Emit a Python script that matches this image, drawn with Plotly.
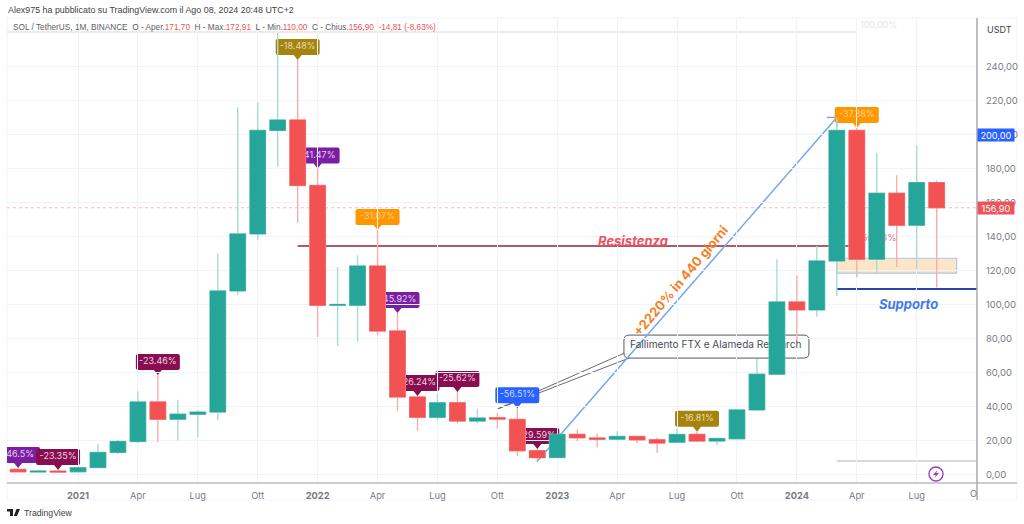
import plotly.graph_objects as go

# SOL/USDT mensile, da ott 2020 ad ago 2024
opens = [3.0, 1.5, 2.0, 1.6, 4.1, 13, 19.4, 42.7, 32.5, 35.4, 36.7, 108, 141.5, 202.4, 208.5, 170,
         99.5, 99.5, 122.6, 84.4, 45.6, 33.6, 42.2, 31.4, 33.4, 32.4, 14, 10, 23.6, 21.5, 20.8, 22.4,
         20.4, 19, 23.6, 19.7, 21, 38, 59, 101.5, 96.8, 125.6, 202.4, 126.6, 165.4, 146.6, 171.7]
highs = [3.8, 2.3, 2.6, 4.2, 18, 20.4, 49, 58.5, 44, 38, 130, 216, 219, 259.7, 243.8, 180,
         122, 129, 143.8, 95, 46.2, 47.4, 48.5, 38.8, 36, 39, 15, 24, 26.5, 24, 25.4, 23,
         21.8, 27, 25.2, 21.8, 38.5, 68, 126.6, 117, 134.4, 210, 203.8, 189, 176, 193.5, 172.91]
lows = [1.5, 1.2, 1.2, 1.5, 4, 12, 18.5, 19, 20, 22, 32, 105.6, 138, 181, 148, 81,
        75.6, 78, 82, 37.4, 25.8, 31.7, 30, 30, 27, 11, 8, 9.8, 19.6, 16, 20, 18.6,
        12.7, 18.5, 19, 17.3, 20.8, 37.6, 58.5, 79, 92.8, 105, 116, 118, 122, 121, 110]
closes = [1.6, 2.0, 1.5, 4.0, 13, 19.4, 42.7, 32.5, 35.5, 36.7, 108, 141.5, 202.4, 208.5, 170, 99.5,
          100, 122.6, 84.4, 45.6, 33.6, 42.2, 31.4, 33.2, 32.6, 14, 9.9, 23.6, 21.6, 20.8, 22.4, 20.4,
          18.5, 23.5, 19.7, 21.2, 38, 59, 101.5, 96.8, 125.6, 202.4, 126.6, 165.4, 146.6, 171.7, 156.9]
months = list(range(len(opens)))

tick_pos = [3, 6, 9, 12, 15, 18, 21, 24, 27, 30, 33, 36, 39, 42, 45, 48]
tick_text = ["<b>2021</b>", "Apr", "Lug", "Ott", "<b>2022</b>", "Apr", "Lug", "Ott", "<b>2023</b>",
             "Apr", "Lug", "Ott", "<b>2024</b>", "Apr", "Lug", ""]
price_ticks = list(range(0, 241, 20))

# etichette percentuali: candela, testo, colore
label_idx = [0, 2, 7, 14, 15, 18, 19, 20, 22, 25, 26, 34, 42]
label_text = ["-46.5%", "-23.35%", "-23.46%", "-18.48%", "-41.47%", "-31.07%", "-45.92%", "-26.24%",
              "-25.62%", "-56.51%", "-29.59%", "-16.81%", "-37.38%"]
label_fill = ["#7b1fa2", "#880e4f", "#880e4f", "#a5830f", "#7b1fa2", "#ff9800", "#7b1fa2", "#880e4f",
              "#880e4f", "#2962ff", "#880e4f", "#a5830f", "#ff9800"]
label_font = ["#e6cdf0", "#f0cfe0", "#f0cfe0", "#e8dcae", "#e6cdf0", "#ffcf85", "#e6cdf0", "#f0cfe0",
              "#f0cfe0", "#c8d8ff", "#f0cfe0", "#e8dcae", "#ffcf85"]

RESIST = 134.4
SUPPORT = 109.1
LEVEL = 200
LAST = 156.9

FONT = "Inter"
HEAD_FONT = "Liberation Sans"
L, R, T, B = 7, 977, 18, 483
X_RANGE = [-0.556, 48.02]
Y_RANGE = [-5, 268.5]


def fx(px):
    return (px - L) / (R - L)


def fy(py):
    return (B - py) / (B - T)


def pt(px, py):
    return f"{fx(px):.5f},{fy(py):.5f}"


def seg(x0, y0, x1, y1, color, width=1, dash="solid"):
    return dict(type="line", xref="x", yref="y", x0=x0, y0=y0, x1=x1, y1=y1,
                line=dict(color=color, width=width, dash=dash), layer="below")


fig = go.Figure()

shapes = [
    seg(X_RANGE[0], 260.3, 42, 260.3, "#e2e4e8", 1.5),
    seg(X_RANGE[0], LAST, X_RANGE[1], LAST, "#f8bcbc", 1, "dot"),
    seg(14.4, LEVEL, X_RANGE[1], LEVEL, "#7f9cf5", 1),
    seg(14, RESIST, 41.6, RESIST, "#932536", 1.4),
    dict(type="rect", xref="x", yref="y", x0=41, x1=47, y0=118.4, y1=127.2, layer="below",
         fillcolor="#fde6c8", line=dict(color="#a9c6ea", width=1.2)),
    seg(41, SUPPORT, X_RANGE[1], SUPPORT, "#2b45ad", 2),
    seg(41, 7.9, X_RANGE[1], 7.9, "#c9cbd0", 1.5),
    # fumetto FTX
    seg(24, 38.5, 30.4, 71.6, "#666a70", 1),
    seg(24, 38.5, 30.6, 68.5, "#666a70", 1),
    dict(type="path", xref="x", yref="y", xsizemode="pixel", ysizemode="pixel", xanchor=30.34, yanchor=82,
         path="M5,0 L180,0 Q185,0 185,-5 L185,-18 Q185,-23 180,-23 L5,-23 Q0,-23 0,-18 L0,-5 Q0,0 5,0 Z",
         fillcolor="white", line=dict(color="#555a60", width=1), layer="below"),
    # freccia +2220%
    seg(25.98, 7.5, 41, 210, "#74a8ee", 1.5),
    dict(type="line", xref="x", yref="y", xsizemode="pixel", ysizemode="pixel", xanchor=41, yanchor=210,
         x0=0, y0=0, x1=-10, y1=0, line=dict(color="#74a8ee", width=1.5), layer="below"),
    dict(type="line", xref="x", yref="y", xsizemode="pixel", ysizemode="pixel", xanchor=41, yanchor=210,
         x0=0, y0=0, x1=0, y1=-10, line=dict(color="#74a8ee", width=1.5), layer="below"),
]

# pillole con la punta sul massimo della candela
PILL = ("M-4,5 L-20,5 Q-22,5 -22,7 L-22,19 Q-22,21 -20,21 L20,21 Q22,21 22,19 L22,7 Q22,5 20,5 L4,5 L0,0 Z")
for i, c in zip(label_idx, label_fill):
    shapes.append(dict(type="path", xref="x", yref="y", xsizemode="pixel", ysizemode="pixel",
                       xanchor=i, yanchor=highs[i], path=PILL, fillcolor=c, line=dict(width=0), layer="below"))

# cornice, assi prolungati, logo e icona
shapes += [
    dict(type="rect", xref="paper", yref="paper", x0=0, x1=fx(1017), y0=fy(500), y1=1,
         line=dict(color="#f0f3fa", width=1), layer="below"),
    dict(type="line", xref="paper", yref="paper", x0=0, x1=fx(1017), y0=0, y1=0,
         line=dict(color="#9a9ca2", width=1.2)),
    dict(type="line", xref="paper", yref="paper", x0=1, x1=1, y0=fy(500), y1=1,
         line=dict(color="#a8aaae", width=1.5)),
    dict(type="path", xref="paper", yref="paper", line=dict(width=0), fillcolor="#1f1f1f",
         path=f"M{pt(7, 509)} L{pt(13, 509)} L{pt(13, 516)} L{pt(10, 516)} L{pt(10, 511.5)} L{pt(7, 511.5)} Z "
              f"M{pt(16.5, 509)} L{pt(20, 509)} L{pt(17, 516)} L{pt(13.8, 516)} Z"),
    dict(type="circle", xref="paper", yref="paper", x0=fx(929), x1=fx(943), y0=fy(481), y1=fy(467),
         line=dict(color="#9c3db5", width=1.4), fillcolor="white"),
    dict(type="path", xref="paper", yref="paper", line=dict(width=0), fillcolor="#9c3db5",
         path=f"M{pt(937.5, 470)} L{pt(933, 475)} L{pt(935.8, 475)} L{pt(934.5, 478)} L{pt(939, 473)} L{pt(936.2, 473)} Z"),
]

# testi sul piano base, cosi le candele li coprono
pill_y = [highs[i] + 13 / 1.7 for i in label_idx]
fig.add_trace(go.Scatter(x=label_idx, y=pill_y, mode="text", text=label_text,
                         textfont=dict(family=FONT, size=9, color=label_font),
                         hoverinfo="skip", showlegend=False))
fig.add_trace(go.Scatter(x=[43], y=[139], mode="text", text=["-56.06%"],
                         textfont=dict(family=FONT, size=9.5, color="#d9708a"),
                         hoverinfo="skip", showlegend=False))
fig.add_trace(go.Scatter(x=[30.64], y=[75.6], mode="text", text=["Fallimento FTX e Alameda Research"],
                         textposition="middle right",
                         textfont=dict(family=FONT, size=10.1, color="#4a4e54"),
                         hoverinfo="skip", showlegend=False))

GREEN_BODY, RED_BODY = "#26a69a", "#f25252"
# prima gli stoppini chiari, poi i corpi pieni sopra
fig.add_trace(go.Candlestick(
    x=months, open=opens, high=highs, low=lows, close=closes,
    xaxis="x2", yaxis="y2",
    increasing=dict(line=dict(color="#a6dcd4", width=1.4), fillcolor=GREEN_BODY),
    decreasing=dict(line=dict(color="#f7adad", width=1.4), fillcolor=RED_BODY),
    hoverinfo="skip", showlegend=False,
))
body_top = [max(o, c) for o, c in zip(opens, closes)]
body_bot = [min(o, c) for o, c in zip(opens, closes)]
fig.add_trace(go.Candlestick(
    x=months, open=opens, high=body_top, low=body_bot, close=closes,
    xaxis="x2", yaxis="y2",
    increasing=dict(line=dict(color=GREEN_BODY, width=0.6), fillcolor=GREEN_BODY),
    decreasing=dict(line=dict(color=RED_BODY, width=0.6), fillcolor=RED_BODY),
    hoverinfo="skip", showlegend=False,
))

RED = "#ef5350"
legend = (f"SOL / TetherUS, 1M, BINANCE&nbsp;&nbsp;O - Aper.<span style='color:{RED}'>171,70</span>&nbsp;&nbsp;"
          f"H - Max.<span style='color:{RED}'>172,91</span>&nbsp;&nbsp;L - Min.<span style='color:{RED}'>110,00</span>&nbsp;&nbsp;"
          f"C - Chius.<span style='color:{RED}'>156,90</span>&nbsp;&nbsp;<span style='color:{RED}'>-14,81 (-8,63%)</span>")


def note(text, px, py, size=10, color="#555", anchor="left", family=FONT, **kw):
    return dict(text=text, xref="paper", yref="paper", x=fx(px), y=fy(py), xanchor=anchor, yanchor="middle",
                showarrow=False, font=dict(family=family, size=size, color=color), **kw)


annotations = [
    note("Alex975 ha pubblicato su TradingView.com il Ago 08, 2024 20:48 UTC+2", 6, 10, 8.9, "#3f4247", family=HEAD_FONT),
    note(legend, 11, 28, 8.25, "#5d6068", family=HEAD_FONT),
    note("USDT", 1000, 29, 9, "#3f4247", "center"),
    note("100,00%", 878, 24, 9, "#e4e5e8", "center"),
    note("TradingView", 22, 513, 8.7, "#3f4247", family=HEAD_FONT),
    note("O", 973, 493, 9.3, "#787b86", "center"),
    note("<b><i>Resistenza</i></b>", 633, 241, 13, "#f0505f", "center"),
    note("<b><i>Supporto</i></b>", 908, 304, 13, "#3f78f0", "center"),
    note("<b>+2220% in 440 giorni</b>", 680, 281, 13, "#f57f27", "center", textangle=-50),
    note("200,00", 996, 134.5, 9.2, "#ffffff", "center", bgcolor="#2962ff", width=36, height=12, borderpad=0),
    note("156,90", 996, 208, 9.2, "#ffffff", "center", bgcolor="#f0525a", width=36, height=12, borderpad=0),
]

grid = "#f0f3fa"
fig.update_layout(
    width=1024, height=524,
    margin=dict(l=L, r=1024 - R, t=T, b=524 - B),
    paper_bgcolor="white", plot_bgcolor="white",
    separators=",.",
    boxgap=0.22, boxgroupgap=0, boxmode="overlay",
    showlegend=False,
    shapes=shapes, annotations=annotations,
    xaxis=dict(range=X_RANGE, tickmode="array", tickvals=tick_pos, ticktext=tick_text,
               showgrid=True, gridcolor=grid, gridwidth=1, zeroline=False, showline=False,
               ticks="outside", ticklen=4, tickcolor="rgba(0,0,0,0)",
               tickfont=dict(family=FONT, size=9.3, color="#787b86"),
               rangeslider=dict(visible=False)),
    yaxis=dict(range=Y_RANGE, side="right", tickmode="array", tickvals=price_ticks, tickformat=".2f",
               showgrid=True, gridcolor=grid, gridwidth=1, zeroline=False, showline=False,
               ticks="outside", ticklen=6, tickcolor="rgba(0,0,0,0)",
               tickfont=dict(family=FONT, size=9.5, color="#787b86")),
    xaxis2=dict(range=X_RANGE, overlaying="x", visible=False, rangeslider=dict(visible=False)),
    yaxis2=dict(range=Y_RANGE, overlaying="y", side="right", visible=False),
)

fig.write_html("out.html", config=dict(displayModeBar=False),
               post_script="document.body.style.margin='0';")
